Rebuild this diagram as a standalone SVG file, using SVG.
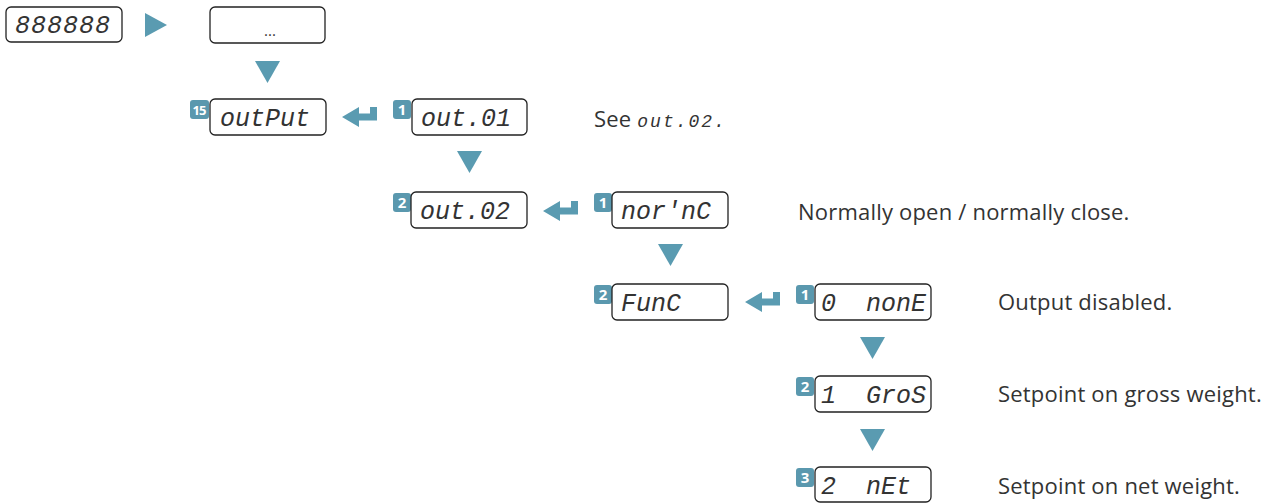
<svg xmlns="http://www.w3.org/2000/svg" width="1272" height="503" viewBox="0 0 1272 503">
<style>
.box{fill:#fff;stroke:#222;stroke-width:1.3}
.badge{fill:#5a98ae}
.bt{fill:#fff;font-family:"Open Sans","Liberation Sans",sans-serif;font-weight:700;font-size:15px;text-anchor:middle}
.seg{fill:#333;font-family:"Liberation Mono","DejaVu Sans Mono",monospace;font-style:italic;font-size:25px;white-space:pre}
.desc{fill:#333;font-family:"Open Sans","Liberation Sans",sans-serif;font-size:22px;letter-spacing:0.2px}
.teal{fill:#5a9bb1}
</style>
<defs>
<path id="enter" d="M0,10 L17,0 L17,6.5 L28,6.5 L28,0 L35,0 L35,13.5 L17,13.5 L17,20 Z"/>
<path id="down" d="M0,0 L25,0 L12.5,22 Z"/>
</defs>
<g id="connectors" class="teal">
<path d="M145,13 L167,25 L145,37 Z"/>
<use href="#down" x="255" y="61"/>
<use href="#down" x="457" y="151"/>
<use href="#down" x="658" y="244"/>
<use href="#down" x="860" y="337"/>
<use href="#down" x="860" y="429"/>
<use href="#enter" x="342" y="107"/>
<use href="#enter" x="543" y="201"/>
<use href="#enter" x="745" y="292"/>
</g>
<g id="n-display">
<rect class="box" x="6" y="7" width="116" height="35" rx="5"/>
<text class="seg" x="15" y="33" letter-spacing="1">888888</text>
</g>
<g id="n-menu">
<rect class="box" x="210" y="7" width="115" height="36" rx="5"/>
<text x="270" y="36" text-anchor="middle" style="font-family:'Open Sans','Liberation Sans',sans-serif;font-size:15px;fill:#333">...</text>
</g>
<g id="n-output">
<rect class="badge" x="190" y="100" width="19" height="19" rx="3"/>
<text class="bt" x="199" y="115" style="font-size:13px;letter-spacing:-1px">15</text>
<rect class="box" x="210" y="99" width="116" height="36" rx="5"/>
<text class="seg" x="220" y="126">outPut</text>
</g>
<g id="n-out01">
<rect class="badge" x="393" y="100" width="18" height="19" rx="3"/>
<text class="bt" x="402" y="115">1</text>
<rect class="box" x="412" y="99" width="115" height="36" rx="5"/>
<text class="seg" x="421" y="126">out.01</text>
</g>
<g id="n-see">
<text class="desc" x="594" y="127">See <tspan style="font-family:'Liberation Mono','DejaVu Sans Mono',monospace;font-style:italic;font-size:18px;letter-spacing:2px">out.02.</tspan></text>
</g>
<g id="n-out02">
<rect class="badge" x="393" y="193" width="18" height="19" rx="3"/>
<text class="bt" x="402" y="208">2</text>
<rect class="box" x="411" y="192" width="116" height="36" rx="5"/>
<text class="seg" x="420" y="219">out.02</text>
</g>
<g id="n-nornc">
<rect class="badge" x="594" y="193" width="18" height="19" rx="3"/>
<text class="bt" x="603" y="208">1</text>
<rect class="box" x="612" y="192" width="116" height="36" rx="5"/>
<text class="seg" x="621" y="219">nor'nC</text>
</g>
<g id="n-nornc-desc">
<text class="desc" x="798" y="220">Normally open / normally close.</text>
</g>
<g id="n-func">
<rect class="badge" x="594" y="285" width="18" height="19" rx="3"/>
<text class="bt" x="603" y="300">2</text>
<rect class="box" x="612" y="284" width="116" height="36" rx="5"/>
<text class="seg" x="621" y="311">FunC</text>
</g>
<g id="n-none">
<rect class="badge" x="796" y="285" width="18" height="19" rx="3"/>
<text class="bt" x="805" y="300">1</text>
<rect class="box" x="815" y="284" width="116" height="36" rx="5"/>
<text class="seg" x="821" y="311">0  nonE</text>
<text class="desc" x="998" y="310">Output disabled.</text>
</g>
<g id="n-gros">
<rect class="badge" x="796" y="377" width="18" height="19" rx="3"/>
<text class="bt" x="805" y="392">2</text>
<rect class="box" x="815" y="376" width="116" height="36" rx="5"/>
<text class="seg" x="821" y="403">1  GroS</text>
<text class="desc" x="998" y="402">Setpoint on gross weight.</text>
</g>
<g id="n-net">
<rect class="badge" x="796" y="468" width="18" height="19" rx="3"/>
<text class="bt" x="805" y="483">3</text>
<rect class="box" x="815" y="467" width="116" height="35" rx="5"/>
<text class="seg" x="821" y="494">2  nEt</text>
<text class="desc" x="998" y="494">Setpoint on net weight.</text>
</g>
</svg>
